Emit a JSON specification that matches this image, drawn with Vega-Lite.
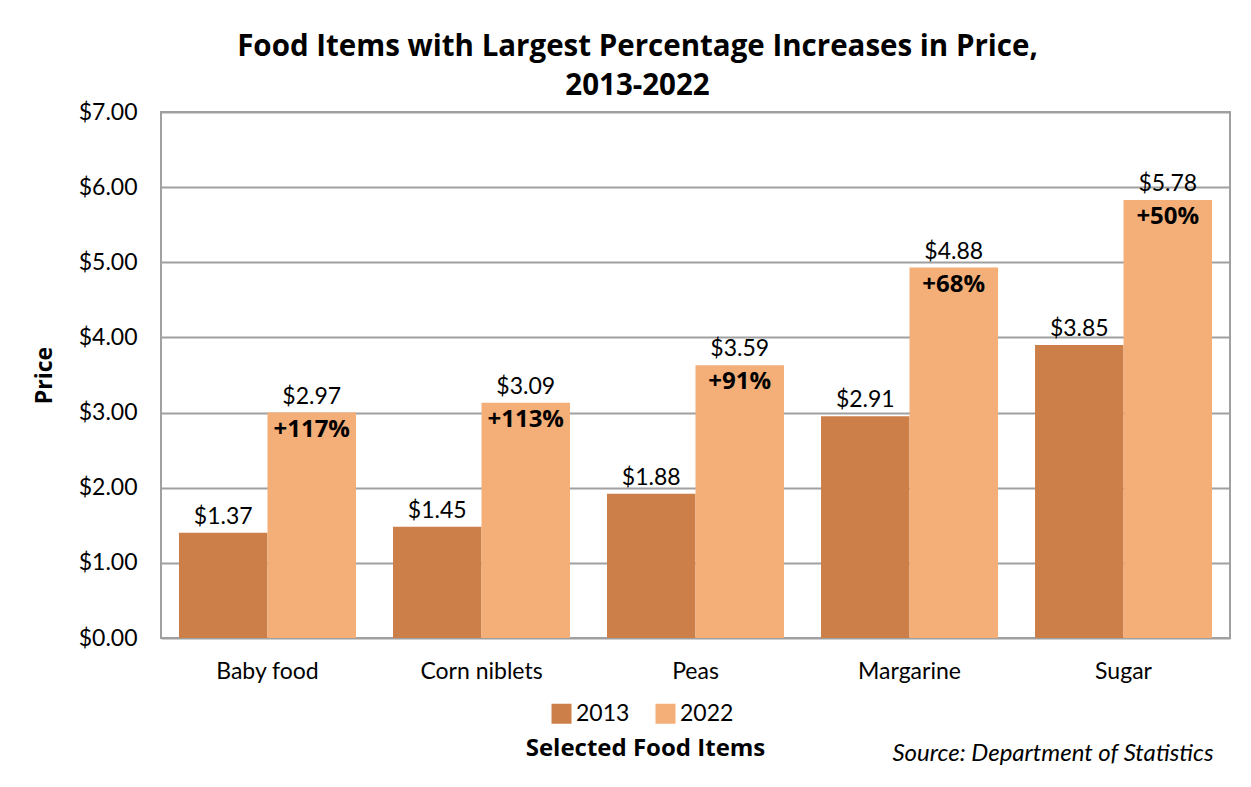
{
  "$schema": "https://vega.github.io/schema/vega-lite/v6.json",
  "width": 1069,
  "height": 526,
  "autosize": {"type": "none"},
  "padding": {"left": 161, "top": 112, "right": 21, "bottom": 149},
  "background": "white",
  "config": {"font": "Lato", "view": {"stroke": "#A0A0A0", "strokeWidth": 2}},
  "title": {
    "text": ["Food Items with Largest Percentage Increases in Price,", "2013-2022"],
    "font": "Open Sans", "fontSize": 29.5, "fontWeight": "bold", "color": "black",
    "anchor": "middle", "dx": -58, "offset": 0, "lineHeight": 39
  },
  "data": {"values": [
    {"item": "Baby food", "year": "2013", "price": 1.40, "label": "$1.37", "pct": ""},
    {"item": "Baby food", "year": "2022", "price": 3.00, "label": "$2.97", "pct": "+117%"},
    {"item": "Corn niblets", "year": "2013", "price": 1.48, "label": "$1.45", "pct": ""},
    {"item": "Corn niblets", "year": "2022", "price": 3.13, "label": "$3.09", "pct": "+113%"},
    {"item": "Peas", "year": "2013", "price": 1.92, "label": "$1.88", "pct": ""},
    {"item": "Peas", "year": "2022", "price": 3.63, "label": "$3.59", "pct": "+91%"},
    {"item": "Margarine", "year": "2013", "price": 2.95, "label": "$2.91", "pct": ""},
    {"item": "Margarine", "year": "2022", "price": 4.93, "label": "$4.88", "pct": "+68%"},
    {"item": "Sugar", "year": "2013", "price": 3.90, "label": "$3.85", "pct": ""},
    {"item": "Sugar", "year": "2022", "price": 5.83, "label": "$5.78", "pct": "+50%"}
  ]},
  "encoding": {
    "x": {
      "field": "item", "type": "nominal",
      "sort": ["Baby food", "Corn niblets", "Peas", "Margarine", "Sugar"],
      "scale": {"paddingInner": 0.173, "paddingOuter": 0.084},
      "axis": {
        "title": "Selected Food Items", "titleFont": "Open Sans", "titleFontSize": 24, "titleFontWeight": "bold", "titleColor": "black",
        "titleX": 484, "titleY": 98,
        "labelAngle": 0, "labelFontSize": 23, "labelColor": "black", "labelPadding": 22,
        "ticks": false, "domain": false
      }
    },
    "xOffset": {"field": "year", "type": "nominal", "scale": {"paddingInner": 0, "paddingOuter": 0}}
  },
  "layer": [
    {
      "mark": {"type": "bar"},
      "encoding": {
        "y": {
          "field": "price", "type": "quantitative",
          "scale": {"domain": [0, 7], "nice": false},
          "axis": {
            "title": "Price", "titleFont": "Open Sans", "titleFontSize": 23, "titleFontWeight": "bold", "titleColor": "black", "titlePadding": 22,
            "values": [0, 1, 2, 3, 4, 5, 6, 7], "format": "$.2f",
            "labelFontSize": 23, "labelColor": "black", "labelPadding": 24,
            "ticks": false, "domain": false,
            "grid": true, "gridColor": "#A0A0A0", "gridWidth": 2
          }
        },
        "color": {
          "field": "year", "type": "nominal",
          "scale": {"domain": ["2013", "2022"], "range": ["#CD7F4A", "#F4AE77"]},
          "legend": {
            "orient": "none", "legendX": 389, "legendY": 590, "direction": "horizontal",
            "title": null, "symbolType": "square", "symbolSize": 400, "symbolStrokeWidth": 0,
            "labelFontSize": 23, "labelColor": "black", "labelOffset": 3, "columnPadding": 24
          }
        }
      }
    },
    {
      "mark": {"type": "text", "baseline": "bottom", "dy": -4, "fontSize": 23, "color": "black"},
      "encoding": {
        "y": {
          "field": "price", "type": "quantitative",
          "scale": {"domain": [0, 7], "nice": false},
          "axis": {
            "orient": "right", "labels": false, "ticks": false, "domain": false, "grid": false,
            "title": "Source: Department of Statistics", "titleAngle": 0, "titleFontStyle": "italic",
            "titleFontWeight": "normal", "titleFontSize": 24, "titleColor": "black",
            "titleX": -17, "titleY": 648, "titleAlign": "right", "titleBaseline": "alphabetic"
          }
        },
        "text": {"field": "label"}
      }
    },
    {
      "transform": [{"filter": "datum.year == '2022'"}],
      "mark": {"type": "text", "baseline": "top", "dy": 5, "font": "Open Sans", "fontSize": 24, "fontWeight": "bold", "color": "black"},
      "encoding": {
        "y": {"field": "price", "type": "quantitative", "scale": {"domain": [0, 7], "nice": false}, "axis": null},
        "text": {"field": "pct"}
      }
    }
  ],
  "resolve": {"axis": {"y": "independent"}}
}
